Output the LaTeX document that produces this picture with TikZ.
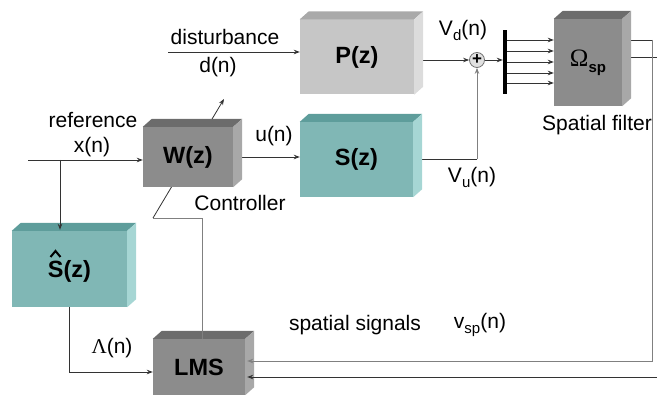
\documentclass[tikz,border=0pt]{standalone}
\usepackage{fontspec}
\setmainfont{Liberation Sans}
\newfontfamily\grk{Liberation Serif}
\usetikzlibrary{arrows.meta}
\pgfdeclarelayer{bg}
\pgfsetlayers{bg,main}
\definecolor{ltfront}{HTML}{C6C6C6}\definecolor{lttop}{HTML}{A9A9A9}\definecolor{ltside}{HTML}{DCDCDC}
\definecolor{dkfront}{HTML}{8C8C8C}\definecolor{dktop}{HTML}{6C6C6C}\definecolor{dkside}{HTML}{A8A8A8}
\definecolor{tlfront}{HTML}{80B7B5}\definecolor{tltop}{HTML}{5E9D9B}\definecolor{tlside}{HTML}{A6D6D4}
\newcommand{\lowsub}[1]{\raisebox{-0.45ex}{\fontsize{15}{15}\selectfont #1}}
\newcommand{\cubefaces}[3]{%
  \fill[#2] (#1.north west) -- ([shift={(9,-8)}]#1.north west) -- ([shift={(9,-8)}]#1.north east) -- (#1.north east) -- cycle;
  \fill[#3] (#1.north east) -- ([shift={(9,-8)}]#1.north east) -- ([shift={(9,-8)}]#1.south east) -- (#1.south east) -- cycle;}
\tikzset{
  conn/.style={draw=black!80, line width=0.8pt},
  arr/.style={conn, -{Stealth[length=6pt,width=4.5pt]}},
  faint/.style={draw=black!50},
  blk/.style={draw=none, inner sep=0pt, text=black, font=\fontsize{23.5}{26}\selectfont\bfseries},
  lbl/.style={inner sep=0pt, font=\fontsize{21}{24}\selectfont}
}
\begin{document}
\begin{tikzpicture}[x=1pt,y=-1pt]
\useasboundingbox (0,0) rectangle (657,395);
% blocks
\node[blk, fill=ltfront, minimum width=114pt, minimum height=75pt] (P) at (357,57) {P(z)};
\node[blk, fill=dkfront, minimum width=90pt, minimum height=60pt] (W) at (188,157) {W(z)};
\node[blk, fill=tlfront, minimum width=113pt, minimum height=75pt] (S) at (356.5,159.5) {S(z)};
\node[blk, fill=tlfront, minimum width=115pt, minimum height=76pt, text depth=0pt] (Sh) at (69.5,269) {S(z)};
\node[blk, fill=dkfront, minimum width=92pt, minimum height=56pt] (LMS) at (199,367) {LMS};
\node[blk, fill=dkfront, minimum width=68pt, minimum height=87pt] (Om) at (588,62.5) {{\grk\mdseries\fontsize{25}{25}\selectfont Ω}\lowsub{\bfseries sp}};
\cubefaces{P}{lttop}{ltside}
\cubefaces{W}{dktop}{dkside}
\cubefaces{S}{tltop}{tlside}
\cubefaces{Sh}{tltop}{tlside}
\cubefaces{LMS}{dktop}{dkside}
\cubefaces{Om}{dktop}{dkside}
% hat over S
\draw[line width=2pt, black] ([shift={(-19,-12)}]Sh.center) -- ([shift={(-14,-18)}]Sh.center) -- ([shift={(-9,-12)}]Sh.center);
% junction and bus
\node[circle, draw=black!55, fill=black!12, line width=0.8pt, minimum size=15pt, inner sep=0pt, font=\fontsize{17}{17}\selectfont\bfseries] (sum) at (477,60) {\raisebox{0.08ex}{+}};
\node[fill=black, minimum width=4pt, minimum height=64pt, inner sep=0pt] (bus) at (505,62) {};
% free ends
\coordinate (dstart) at (168,52);
\coordinate (xin) at (28,160);
\coordinate (br) at (60,160);
\coordinate (kink) at (153,218);
\coordinate (adapttip) at (224,99);
\coordinate (rt) at (652,40);
\coordinate (exitA) at (657,57);
\coordinate (exitB) at (657,377);
% labels
\node[lbl] (ldist) at (225,37) {disturbance};
\node[lbl] (ldn) at (218,67) {d(n)};
\node[lbl] (lref) at (93,120) {reference};
\node[lbl] (lxn) at (92,147) {x(n)};
\node[lbl] (lun) at (274,136) {u(n)};
\node[lbl] (lctrl) at (240,203) {Controller};
\node[lbl] (lvd) at (463,30) {V\lowsub{d}(n)};
\node[lbl] (lvu) at (472,177) {V\lowsub{u}(n)};
\node[lbl] (lsf) at (597,125) {Spatial filter};
\node[lbl] (lss) at (355,325) {spatial signals};
\node[lbl] (lvsp) at (480,325) {v\lowsub{sp}(n)};
\node[lbl] (llam) at (112,348) {{\grk Λ}(n)};
% connectors behind blocks
\begin{pgfonlayer}{bg}
\draw[arr] (dstart) -- (dstart -| P.west);
\draw[arr] (P.east |- sum) -- (sum.west);
\draw[conn] (S.east) -- (S.east -| sum);
\draw[arr, faint] (S.east -| sum) -- (sum.south);
\draw[arr] (sum.east) -- (sum.east -| bus.west);
\foreach \yy in {40,51,62,73,83}
  \draw[arr] (bus.center |- 0,\yy) -- (Om.west |- 0,\yy);
\draw[arr] (xin) -- (xin -| W.west);
\draw[arr] (W.east) -- (W.east -| S.west);
\draw[arr] (Sh.south) |- ([yshift=-5pt]LMS.west);
\draw[arr] (kink) -- (adapttip);
\draw[conn] ([xshift=8pt]Om.east |- rt) -- (rt);
\draw[conn] ([xshift=8pt]Om.east |- exitA) -- (exitA);
\end{pgfonlayer}
% connectors on top
\draw[arr] (br) -- ([yshift=1pt]br |- Sh.north);
\draw[conn, faint] ([xshift=3pt]LMS.north) |- (kink);
\draw[arr, faint] (rt) -- (rt |- 0,361) -- ([xshift=2pt]LMS.east |- 0,361);
\draw[arr] (exitB) -- ([xshift=2pt]LMS.east |- exitB);
\end{tikzpicture}
\end{document}
